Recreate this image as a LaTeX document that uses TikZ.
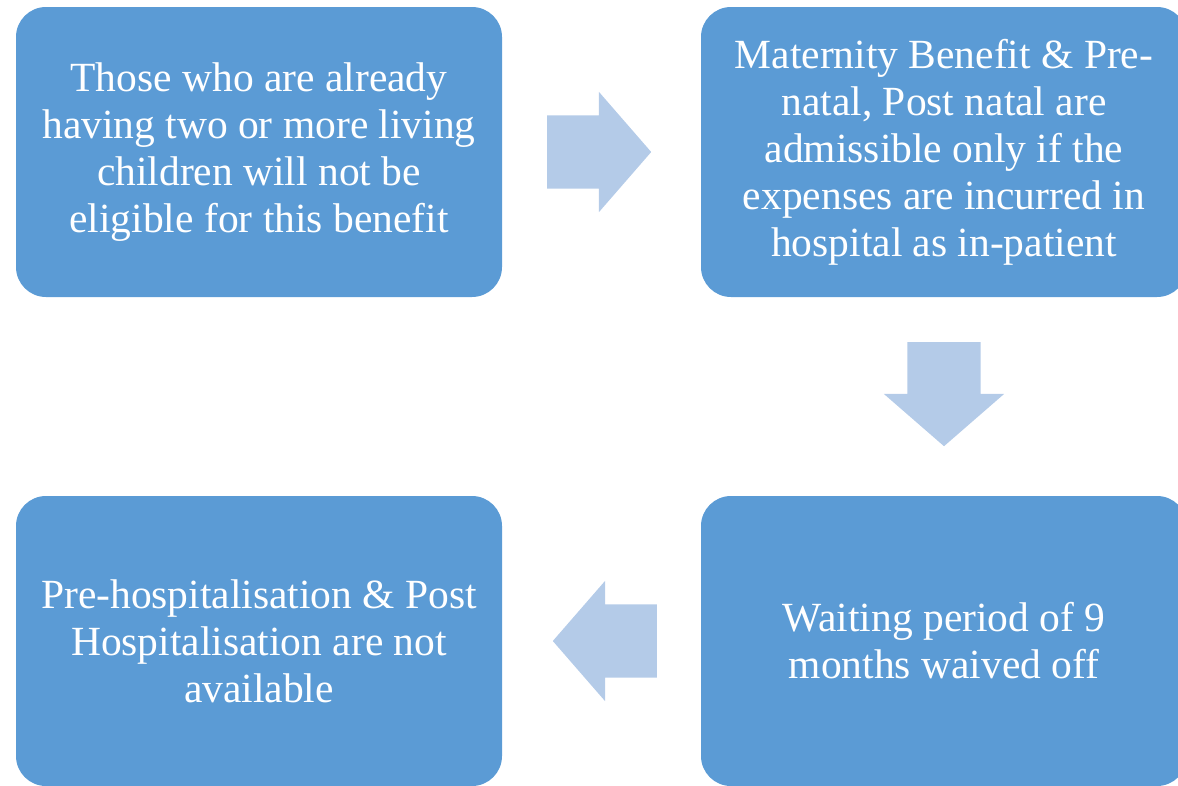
\documentclass[tikz,border=0pt]{standalone}
\usepackage{fontspec}
\setmainfont{Liberation Serif}
\usetikzlibrary{shapes.arrows}
\definecolor{boxblue}{HTML}{5B9BD5}
\definecolor{arrowblue}{HTML}{B4CBE8}
\begin{document}
\begin{tikzpicture}[x=1pt,y=-1pt,
  stepbox/.style={fill=boxblue,draw=none,rounded corners=30pt,minimum width=486pt,minimum height=290pt,
    text=white,align=center,font=\fontsize{41.5}{47}\selectfont},
  blockarrow/.style={fill=arrowblue,draw=none,single arrow,single arrow head extend=23.5pt,
    single arrow tip angle=98,minimum height=104pt,inner xsep=0pt,inner ysep=36.5pt,anchor=tail}]
\useasboundingbox (0,0) rectangle (1178,785);

% boxes
\node[stepbox] (children) at (259,152) {Those who are already\\having two or more living\\children will not be\\eligible for this benefit};
\node[stepbox] (maternity) at (944,152) {Maternity Benefit \& Pre-\\natal, Post natal are\\admissible only if the\\expenses are incurred in\\hospital as in-patient};
\node[stepbox] (waiting) at (944,641) {Waiting period of 9\\months waived off};
\node[stepbox] (prepost) at (259,641) {Pre-hospitalisation \& Post\\Hospitalisation are not\\available};

%---------------------------------
% arrows
\node[blockarrow] (toright) at (547,152) {};
\node[blockarrow,rotate=-90] (todown) at (944,342) {};
\node[blockarrow,rotate=180] (toleft) at (657,641) {};
\end{tikzpicture}
\end{document}
